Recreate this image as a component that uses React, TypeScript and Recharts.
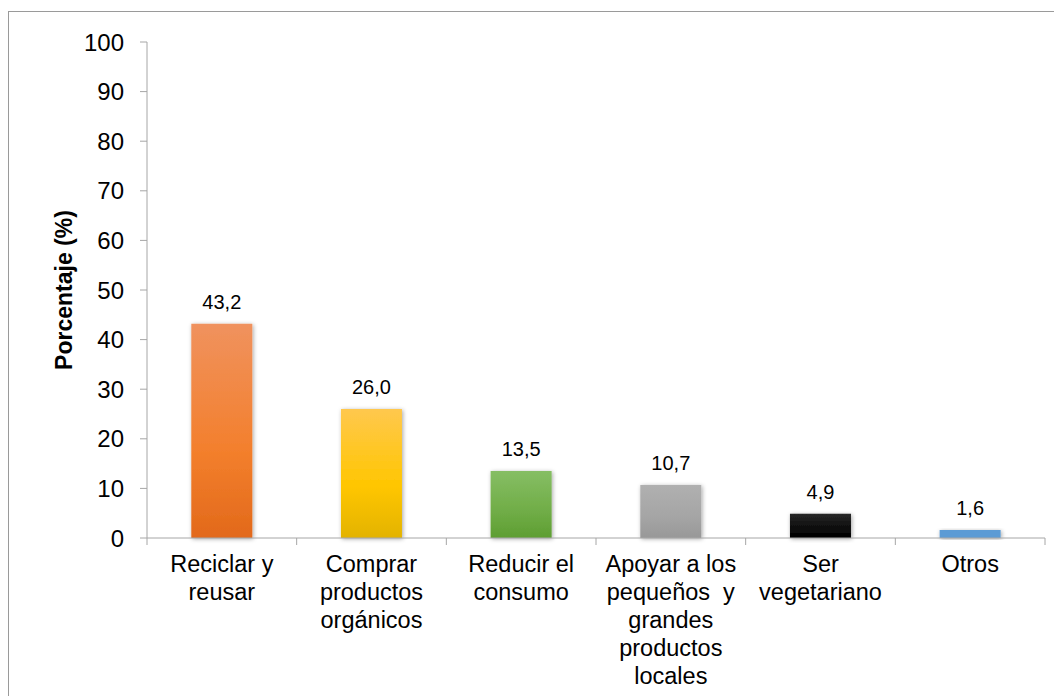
import { Bar, BarChart, Cell, LabelList, XAxis, YAxis } from "recharts";

const categories = [
  "Reciclar y\nreusar",
  "Comprar\nproductos\norgánicos",
  "Reducir el\nconsumo",
  "Apoyar a los\npequeños  y\ngrandes\nproductos\nlocales",
  "Ser\nvegetariano",
  "Otros",
];
const percentages = [43.2, 26.0, 13.5, 10.7, 4.9, 1.6];
const yTicks = [0, 10, 20, 30, 40, 50, 60, 70, 80, 90, 100];

// top / middle / bottom gradient stops per bar
const BAR_GRADIENTS = [
  ["#F0925E", "#F37F2C", "#E2691B"],
  ["#FFC84E", "#FFC600", "#E3B300"],
  ["#86BE64", "#70AD47", "#5E9E32"],
  ["#B0B0B0", "#A5A5A5", "#989898"],
  ["#262626", "#0d0d0d", "#000000"],
  ["#5B9BD5", "#5B9BD5", "#5B9BD5"],
];

const data = categories.map((name, i) => ({ name, value: percentages[i] }));

const FONT = "'Liberation Sans', Arial, sans-serif";
const AXIS_GRAY = "#A6A6A6";

function CategoryTick(props: any) {
  const { x, y, payload, index } = props;
  const half = payload?.offset ?? 74.8;
  const lines = String(payload.value).split("\n");
  return (
    <g>
      <line x1={x - half} y1={y} x2={x - half} y2={y + 7} stroke={AXIS_GRAY} />
      {index === categories.length - 1 && (
        <line x1={x + half} y1={y} x2={x + half} y2={y + 7} stroke={AXIS_GRAY} />
      )}
      <text x={x} y={y + 34} textAnchor="middle" fontFamily={FONT} fontSize={23.5} fill="#000">
        {lines.map((line, i) => (
          <tspan key={i} x={x} dy={i === 0 ? 0 : 28} style={{ whiteSpace: "pre" }}>
            {line}
          </tspan>
        ))}
      </text>
    </g>
  );
}

function YLabel(props: any) {
  const { viewBox } = props;
  const cx = (viewBox?.x ?? 0) + 55;
  const cy = (viewBox?.y ?? 30) + (viewBox?.height ?? 496) / 2;
  return (
    <text
      x={cx}
      y={cy}
      transform={`rotate(-90, ${cx}, ${cy})`}
      textAnchor="middle"
      dominantBaseline="central"
      fontFamily={FONT}
      fontSize={23}
      fontWeight="bold"
      fill="#000"
    >
      Porcentaje (%)
    </text>
  );
}

export default function App() {
  return (
    <div
      style={{
        width: 1053,
        height: 687,
        borderTop: "1px solid #9a9a9a",
        borderLeft: "1px solid #9a9a9a",
        background: "#fff",
        position: "relative",
        top: 3,
      }}
    >
      <BarChart
        width={1053}
        height={687}
        data={data}
        margin={{ top: 30, right: 17, bottom: 0, left: 0 }}
        barCategoryGap="29.6%"
      >
        <defs>
          {BAR_GRADIENTS.map((stops, i) => (
            <linearGradient key={i} id={`barGrad${i}`} x1="0" y1="0" x2="0" y2="1">
              <stop offset="0%" stopColor={stops[0]} />
              <stop offset="60%" stopColor={stops[1]} />
              <stop offset="100%" stopColor={stops[2]} />
            </linearGradient>
          ))}
          <filter id="barShadow" x="-20%" y="-20%" width="140%" height="140%">
            <feDropShadow dx="1" dy="1" stdDeviation="2" floodColor="#000" floodOpacity="0.35" />
          </filter>
        </defs>
        <XAxis
          dataKey="name"
          interval={0}
          height={161}
          tick={<CategoryTick />}
          tickLine={false}
          tickSize={0}
          tickMargin={0}
          axisLine={{ stroke: AXIS_GRAY }}
        />
        <YAxis
          type="number"
          domain={[0, 100]}
          ticks={yTicks}
          width={138}
          tickSize={7}
          tickMargin={16}
          tickLine={{ stroke: AXIS_GRAY }}
          axisLine={{ stroke: AXIS_GRAY }}
          tick={{ fontFamily: FONT, fontSize: 24, fill: "#000" }}
          label={<YLabel />}
        />
        <Bar dataKey="value" isAnimationActive={false} filter="url(#barShadow)">
          {data.map((entry, i) => (
            <Cell key={entry.name} fill={`url(#barGrad${i})`} />
          ))}
          <LabelList
            dataKey="value"
            position="top"
            offset={15}
            formatter={(v: any) => Number(v).toFixed(1).replace(".", ",")}
            style={{ fontFamily: FONT, fontSize: 20, fill: "#000" }}
          />
        </Bar>
      </BarChart>
    </div>
  );
}
